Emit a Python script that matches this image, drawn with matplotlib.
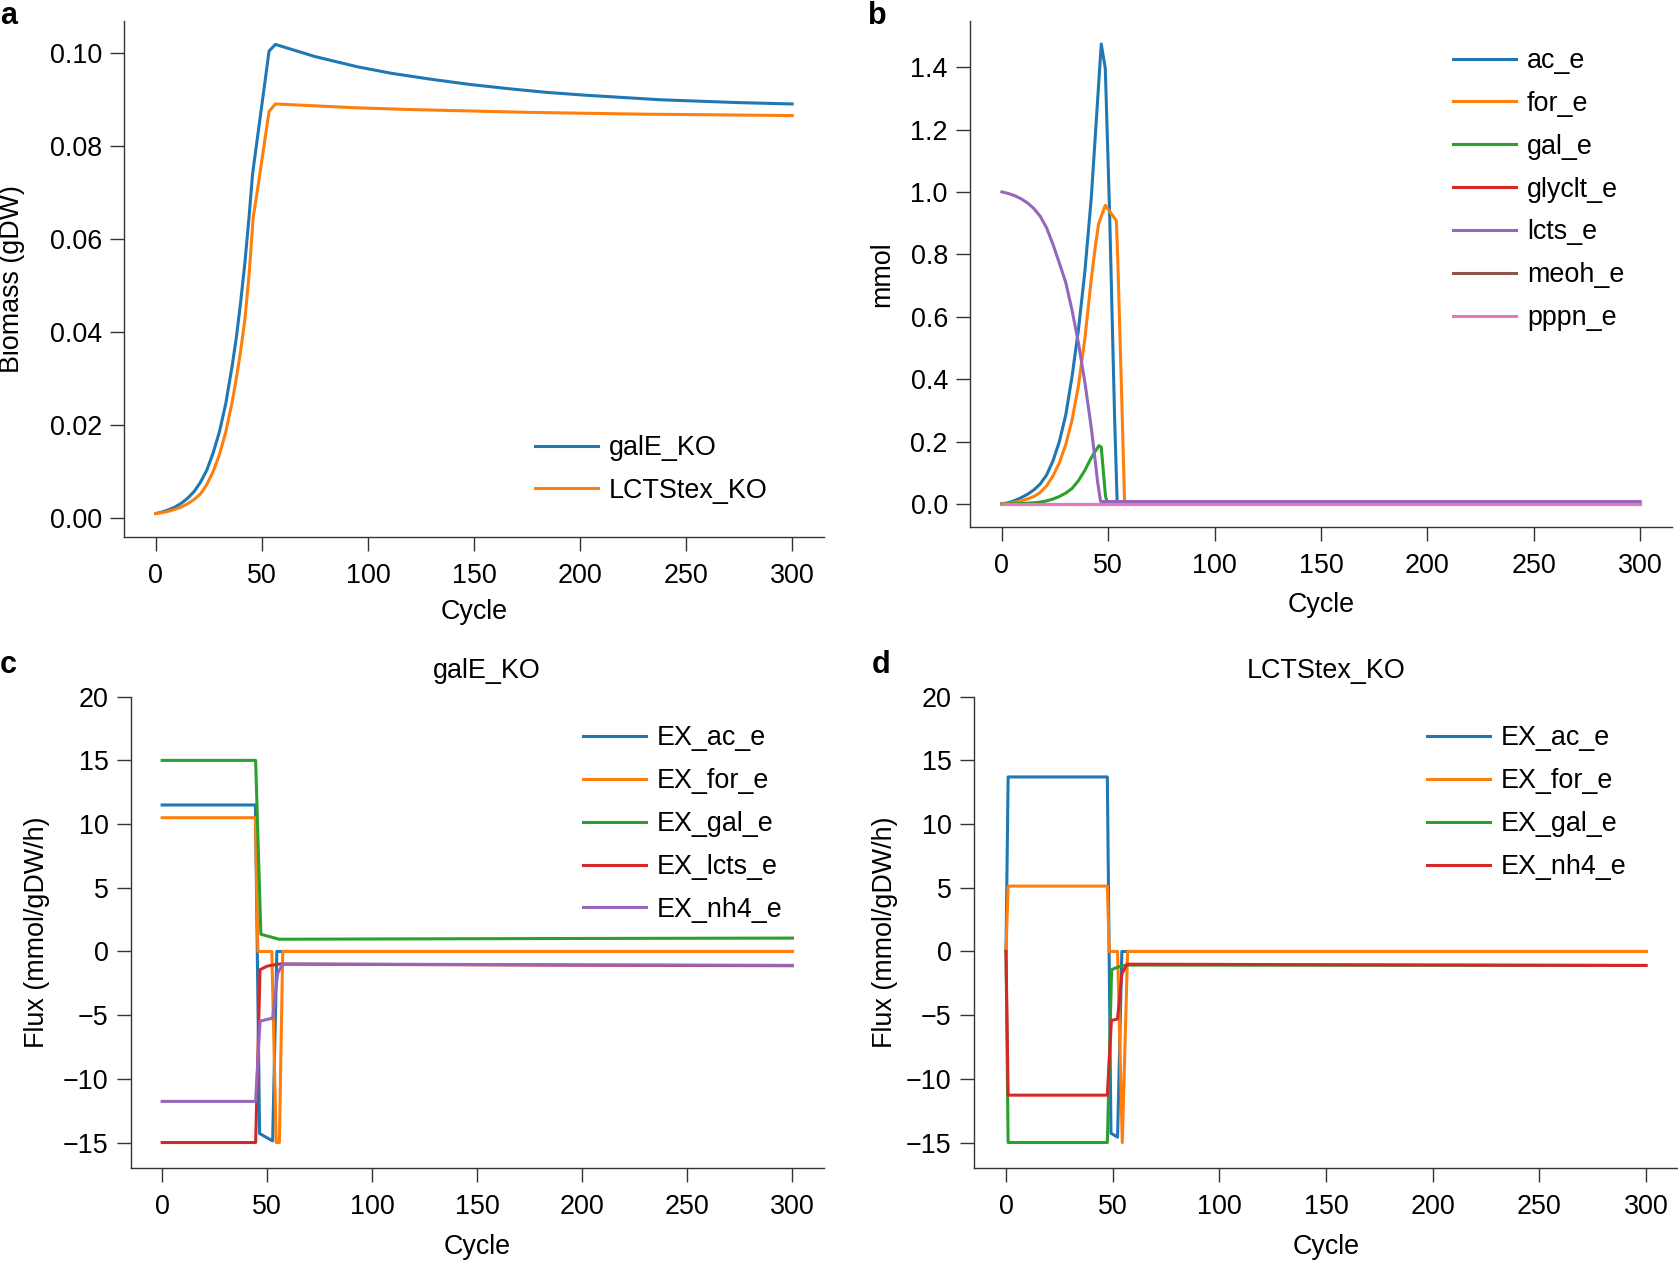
import numpy as np
import matplotlib
matplotlib.use("Agg")
import matplotlib.pyplot as plt

plt.rcParams["font.family"] = ["Liberation Sans", "DejaVu Sans"]
plt.rcParams["axes.unicode_minus"] = True

g_fontsize = 19.4
g_lw = 2.2
g_spine = "#333333"

# ---- panel a : biomass ----
bio_cycle_gale = [0, 3, 6, 9, 12, 15, 18, 21, 24, 27, 30, 33, 36, 38, 40, 42, 44, 45.6, 53.4, 56.4,
                  65, 75, 85, 95, 111, 130, 148, 166, 184, 202, 220, 238, 256, 274, 300]
bio_gale = [0.001, 0.00134, 0.0018, 0.0024, 0.0032, 0.0043, 0.0057, 0.0077, 0.0103, 0.014, 0.0186,
            0.0247, 0.0328, 0.039, 0.0465, 0.055, 0.065, 0.074, 0.1005, 0.1019,
            0.1007, 0.0993, 0.0982, 0.0971, 0.0957, 0.0944, 0.0933, 0.0924, 0.0916, 0.0910, 0.0905,
            0.0900, 0.0897, 0.0894, 0.0891]
bio_cycle_lcts = [0, 3, 6, 9, 12, 15, 18, 21, 24, 27, 30, 33, 36, 38, 40, 42, 44, 45.9, 47.5, 53.4,
                  56.4, 75, 93, 120, 148, 175, 202, 230, 256, 300]
bio_lcts = [0.001, 0.0012, 0.0015, 0.0019, 0.0024, 0.0031, 0.0040, 0.0052, 0.0072, 0.0100, 0.0137,
            0.0186, 0.025, 0.0302, 0.0360, 0.0428, 0.0525, 0.0647, 0.0693, 0.0875,
            0.0891, 0.0887, 0.0883, 0.0879, 0.0876, 0.0873, 0.0871, 0.0869, 0.0868, 0.0866]

# ---- panel b : metabolites (mmol) ----
met_names = ["ac_e", "for_e", "gal_e", "glyclt_e", "lcts_e", "meoh_e", "pppn_e"]
ac_cycle = [0, 3, 6, 9, 12, 15, 18, 21, 24, 27, 30, 33, 36, 39, 42, 44, 46.7, 48.6, 50.6, 53, 54.2, 300]
ac_val = [0, 0.004, 0.011, 0.02, 0.031, 0.045, 0.064, 0.093, 0.138, 0.2, 0.285, 0.41, 0.56, 0.745,
          0.98, 1.19, 1.474, 1.396, 0.94, 0.27, 0.0, 0.0]
for_cycle = [0, 3, 6, 9, 12, 15, 18, 21, 24, 27, 30, 33, 36, 39, 42, 44, 45.5, 48.6, 53.8, 54.5, 56,
             57.7, 300]
for_val = [0, 0.002, 0.005, 0.01, 0.016, 0.024, 0.037, 0.058, 0.09, 0.132, 0.19, 0.27, 0.38, 0.53,
           0.72, 0.83, 0.899, 0.957, 0.908, 0.776, 0.42, 0.0, 0.0]
gal_cycle = [0, 5, 10, 15, 18, 21, 24, 27, 30, 33, 36, 39, 42, 44, 45.6, 46.7, 48.7, 49.8, 300]
gal_val = [0, 0.0005, 0.0015, 0.004, 0.006, 0.01, 0.016, 0.024, 0.035, 0.05, 0.075, 0.108, 0.148,
           0.17, 0.187, 0.182, 0.025, 0.0, 0.0]
glyclt_cycle = [0, 300]
glyclt_val = [0, 0]
lcts_cycle = [0, 3, 6, 9, 12, 15, 18, 21, 24, 27, 30, 33, 36, 39, 42, 44, 45, 46.4, 300]
lcts_val = [1.0, 0.995, 0.988, 0.978, 0.965, 0.947, 0.922, 0.885, 0.832, 0.772, 0.71, 0.62, 0.515,
            0.39, 0.245, 0.13, 0.07, 0.008, 0.008]
meoh_cycle = [0, 300]
meoh_val = [0, 0]
pppn_cycle = [0, 300]
pppn_val = [0, 0]

# ---- panel c : galE_KO fluxes ----
c_ac_cycle = [0, 44.4, 46.4, 52.6, 54.6, 300]
c_ac_val = [11.5, 11.5, -14.3, -14.87, 0, 0]
c_for_cycle = [0, 44.4, 45.6, 52.2, 54.3, 55.8, 57.4, 300]
c_for_val = [10.5, 10.5, 0, 0, -15, -15, 0, 0]
c_gal_cycle = [0, 44.5, 47, 55.7, 100, 200, 300]
c_gal_val = [15, 15, 1.35, 0.96, 0.98, 1.02, 1.05]
c_lcts_cycle = [0, 44.5, 46.6, 50, 55.7, 100, 200, 300]
c_lcts_val = [-15, -15, -1.43, -1.15, -0.99, -1.02, -1.08, -1.12]
c_nh4_cycle = [0, 44.5, 46.6, 52.6, 55, 57.3, 100, 200, 300]
c_nh4_val = [-11.77, -11.77, -5.47, -5.23, -1.72, -0.99, -1.0, -1.05, -1.09]

# ---- panel d : LCTStex_KO fluxes ----
d_ac_cycle = [0, 1, 47.5, 49.2, 52.3, 54.3, 300]
d_ac_val = [0, 13.7, 13.7, -14.27, -14.58, 0, 0]
d_for_cycle = [0, 1, 47.5, 48.4, 52.3, 54.5, 57, 300]
d_for_val = [0, 5.13, 5.13, 0, 0, -15, 0, 0]
d_gal_cycle = [0, 1, 47.5, 49.5, 52.8, 56.7, 300]
d_gal_val = [0, -15, -15, -1.43, -1.2, -1.07, -1.1]
d_nh4_cycle = [0, 1, 47.5, 49.4, 52.3, 54.3, 56.7, 300]
d_nh4_val = [0, -11.28, -11.28, -5.42, -5.3, -1.77, -1.0, -1.1]

W, H = 1678, 1261


def style(ax):
    for s in ["top", "right"]:
        ax.spines[s].set_visible(False)
    for s in ["left", "bottom"]:
        ax.spines[s].set_color(g_spine)
        ax.spines[s].set_linewidth(1.0)
    ax.tick_params(direction="out", length=10, width=1.0, color=g_spine,
                   labelsize=g_fontsize)
    ax.tick_params(axis="x", pad=9)
    ax.tick_params(axis="y", pad=6)
    ax.set_xticks([0, 50, 100, 150, 200, 250, 300])


def legend(ax, x, y):
    ax.legend(loc="upper left", bbox_to_anchor=(x / W, 1 - y / H),
              bbox_transform=ax.figure.transFigure, borderaxespad=0,
              frameon=False, fontsize=g_fontsize, handlelength=2.34,
              handletextpad=0.41, labelspacing=0.625)


def main():
    fig = plt.figure(figsize=(W / 100, H / 100), dpi=100)

    ax_a = fig.add_axes([124 / W, 1 - 537 / H, 700 / W, 516 / H])
    ax_b = fig.add_axes([970 / W, 1 - 527 / H, 702 / W, 506 / H])
    ax_c = fig.add_axes([130.6 / W, 1 - 1168 / H, 693.4 / W, 471.3 / H])
    ax_d = fig.add_axes([974 / W, 1 - 1168 / H, 704 / W, 471.3 / H])

    # a
    ax_a.plot(bio_cycle_gale, bio_gale, color="C0", lw=g_lw, label="galE_KO")
    ax_a.plot(bio_cycle_lcts, bio_lcts, color="C1", lw=g_lw, label="LCTStex_KO")
    style(ax_a)
    ax_a.set_yticks([0.0, 0.02, 0.04, 0.06, 0.08, 0.10])
    ax_a.set_yticklabels(["0.00", "0.02", "0.04", "0.06", "0.08", "0.10"])
    ax_a.set_xlabel("Cycle", fontsize=g_fontsize)
    ax_a.set_ylabel("Biomass (gDW)", fontsize=g_fontsize)
    ax_a.xaxis.set_label_coords(0.5, -0.120)
    ax_a.yaxis.set_label_coords(-0.141, 0.5)
    legend(ax_a, 524.2, 424.2)

    # b
    met_cycles = [ac_cycle, for_cycle, gal_cycle, glyclt_cycle, lcts_cycle, meoh_cycle, pppn_cycle]
    met_vals = [ac_val, for_val, gal_val, glyclt_val, lcts_val, meoh_val, pppn_val]
    for i, (name, cyc, val) in enumerate(zip(met_names, met_cycles, met_vals)):
        ax_b.plot(cyc, val, color="C%d" % i, lw=g_lw, label=name)
    style(ax_b)
    ax_b.set_yticks([0.0, 0.2, 0.4, 0.6, 0.8, 1.0, 1.2, 1.4])
    ax_b.set_yticklabels(["0.0", "0.2", "0.4", "0.6", "0.8", "1.0", "1.2", "1.4"])
    ax_b.set_xlabel("Cycle", fontsize=g_fontsize)
    ax_b.set_ylabel("mmol", fontsize=g_fontsize)
    ax_b.xaxis.set_label_coords(0.5, -0.129)
    ax_b.yaxis.set_label_coords(-0.107, 0.5)
    legend(ax_b, 1442.2, 37.3)

    # c
    ax_c.plot(c_ac_cycle, c_ac_val, color="C0", lw=g_lw, label="EX_ac_e")
    ax_c.plot(c_for_cycle, c_for_val, color="C1", lw=g_lw, label="EX_for_e")
    ax_c.plot(c_gal_cycle, c_gal_val, color="C2", lw=g_lw, label="EX_gal_e")
    ax_c.plot(c_lcts_cycle, c_lcts_val, color="C3", lw=g_lw, label="EX_lcts_e")
    ax_c.plot(c_nh4_cycle, c_nh4_val, color="C4", lw=g_lw, label="EX_nh4_e")
    style(ax_c)
    ax_c.set_ylim(-17, 20)
    ax_c.set_yticks([-15, -10, -5, 0, 5, 10, 15, 20])
    ax_c.set_xlabel("Cycle", fontsize=g_fontsize)
    ax_c.set_ylabel("Flux (mmol/gDW/h)", fontsize=g_fontsize)
    ax_c.xaxis.set_label_coords(0.5, -0.141)
    ax_c.yaxis.set_label_coords(-0.116, 0.5)
    ax_c.text(0.514, 1.0545, "galE_KO", transform=ax_c.transAxes, ha="center",
              va="center", fontsize=g_fontsize)
    legend(ax_c, 572.2, 714.7)

    # d
    ax_d.plot(d_ac_cycle, d_ac_val, color="C0", lw=g_lw, label="EX_ac_e")
    ax_d.plot(d_for_cycle, d_for_val, color="C1", lw=g_lw, label="EX_for_e")
    ax_d.plot(d_gal_cycle, d_gal_val, color="C2", lw=g_lw, label="EX_gal_e")
    ax_d.plot(d_nh4_cycle, d_nh4_val, color="C3", lw=g_lw, label="EX_nh4_e")
    style(ax_d)
    ax_d.set_ylim(-17, 20)
    ax_d.set_yticks([-15, -10, -5, 0, 5, 10, 15, 20])
    ax_d.set_xlabel("Cycle", fontsize=g_fontsize)
    ax_d.set_ylabel("Flux (mmol/gDW/h)", fontsize=g_fontsize)
    ax_d.xaxis.set_label_coords(0.5, -0.141)
    ax_d.yaxis.set_label_coords(-0.108, 0.5)
    ax_d.text(0.5, 1.0545, "LCTStex_KO", transform=ax_d.transAxes, ha="center",
              va="center", fontsize=g_fontsize)
    legend(ax_d, 1416.2, 714.7)

    # panel letters
    for lab, x, y in [("a", 0, 23.5), ("b", 868, 23.5), ("c", 0, 673), ("d", 872, 673)]:
        fig.text(x / W, 1 - y / H, lab, fontsize=22, fontweight="bold",
                 ha="left", va="baseline")

    fig.savefig("out.png", dpi=100)


if __name__ == "__main__":
    main()
